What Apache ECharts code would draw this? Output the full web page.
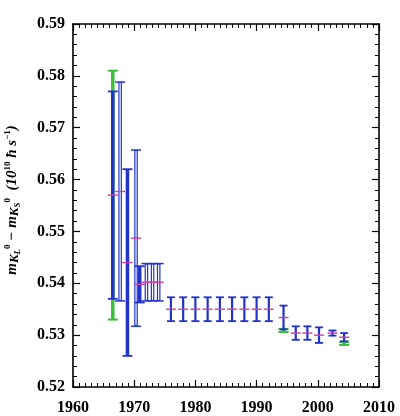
<!DOCTYPE html>
<html><head><meta charset="utf-8">
<script src="https://cdn.jsdelivr.net/npm/echarts@6/dist/echarts.min.js"></script>
<style>html,body{margin:0;padding:0;background:#fff}#c{width:400px;height:416px}</style>
</head><body><div id="c"></div>
<script>
// ---- data ----
const xTickValues = [1960, 1970, 1980, 1990, 2000, 2010];
const yTickValues = [0.52, 0.53, 0.54, 0.55, 0.56, 0.57, 0.58, 0.59];
const blueYears  = [1966.5, 1967.7, 1968.9, 1970.3, 1970.9, 1972.0, 1973.0, 1974.0,
                    1976, 1978, 1980, 1982, 1984, 1986, 1988, 1990, 1992,
                    1994.4, 1996.4, 1998.3, 2000.2, 2002.4, 2004.3];
const blueValues = [0.5570, 0.5577, 0.5440, 0.5487, 0.5398, 0.5402, 0.5402, 0.5402,
                    0.5350, 0.5350, 0.5350, 0.5350, 0.5350, 0.5350, 0.5350, 0.5350, 0.5350,
                    0.5334, 0.5304, 0.5304, 0.5300, 0.5304, 0.5296];
const blueErrors = [0.0200, 0.0211, 0.0180, 0.0170, 0.0035, 0.0036, 0.0036, 0.0036,
                    0.0023, 0.0023, 0.0023, 0.0023, 0.0023, 0.0023, 0.0023, 0.0023, 0.0023,
                    0.0023, 0.0013, 0.0013, 0.0015, 0.0005, 0.0008];
const blueKinds  = ['thick', 'hollow', 'thick', 'hollow', 'thick', 'hollow', 'hollow', 'hollow',
                    'solid', 'solid', 'solid', 'solid', 'solid', 'solid', 'solid', 'solid', 'solid',
                    'solid', 'solid', 'solid', 'solid', 'solid', 'solid'];
const greenYears  = [1966.5, 1994.4, 2004.3];
const greenValues = [0.5570, 0.5309, 0.5284];
const greenErrors = [0.0240, 0.0003, 0.0003];

const BLUE = '#2233c8', GREEN = '#3cbf3c', MAG = '#d03ca8';
const kindIndex = {thick: 0, hollow: 1, solid: 2};

const blueData = blueYears.map((y, i) => [y, blueValues[i], blueErrors[i], kindIndex[blueKinds[i]]]);
const greenData = greenYears.map((y, i) => [y, greenValues[i], greenErrors[i], 3]);

function renderErr(params, api) {
  const x = api.value(0), v = api.value(1), e = api.value(2), k = api.value(3);
  const t = api.coord([x, v + e]), b = api.coord([x, v - e]), m = api.coord([x, v]);
  const ch = [];
  const line = (x1, y1, x2, y2, color, w) => ch.push({type: 'line', shape: {x1, y1, x2, y2}, style: {stroke: color, lineWidth: w}});
  if (k === 3) { // green
    const cw = 5;
    line(t[0], t[1], b[0], b[1], GREEN, 3.5);
    line(t[0] - cw, t[1], t[0] + cw, t[1], GREEN, 2);
    line(b[0] - cw, b[1], b[0] + cw, b[1], GREEN, 2);
    return {type: 'group', children: ch};
  }
  if (k === 0) {
    const cw = 5;
    line(t[0], t[1], b[0], b[1], BLUE, 3.5);
    line(t[0] - cw, t[1], t[0] + cw, t[1], BLUE, 1.8);
    line(b[0] - cw, b[1], b[0] + cw, b[1], BLUE, 1.8);
  } else if (k === 1) {
    const cw = 5;
    line(t[0], t[1], b[0], b[1], BLUE, 3.6);
    line(t[0], t[1] + 1, b[0], b[1] - 1, '#ffffff', 1.2);
    line(t[0] - cw, t[1], t[0] + cw, t[1], BLUE, 1.5);
    line(b[0] - cw, b[1], b[0] + cw, b[1], BLUE, 1.5);
  } else {
    const cw = 4;
    line(t[0], t[1], b[0], b[1], BLUE, 2.2);
    line(t[0] - cw, t[1], t[0] + cw, t[1], BLUE, 1.8);
    line(b[0] - cw, b[1], b[0] + cw, b[1], BLUE, 1.8);
  }
  line(m[0] - 5, m[1], m[0] + 5, m[1], MAG, 1.4);
  return {type: 'group', children: ch};
}

const FONT = 'Liberation Serif';
const labelStyle = {fontFamily: FONT, fontSize: 16, fontWeight: 'bold', color: '#000'};
const frameLine = {show: true, onZero: false, lineStyle: {color: '#000', width: 1.6}};

const chart = echarts.init(document.getElementById('c'), null, {renderer: 'canvas'});
chart.setOption({
  animation: false,
  backgroundColor: '#fff',
  grid: {left: 73, right: 21, top: 24, bottom: 29, containLabel: false},
  xAxis: [
    {type: 'value', position: 'bottom', min: xTickValues[0], max: xTickValues[xTickValues.length - 1], interval: 10,
     axisLine: frameLine, splitLine: {show: false},
     axisTick: {show: true, inside: true, length: 7, lineStyle: {color: '#000', width: 1.2}},
     minorTick: {show: true, splitNumber: 10, length: 4, lineStyle: {color: '#000', width: 1}},
     axisLabel: Object.assign({margin: 13, showMaxLabel: true, showMinLabel: true, formatter: v => String(v)}, labelStyle)},
    {type: 'value', position: 'top', min: xTickValues[0], max: xTickValues[xTickValues.length - 1], interval: 10,
     axisLine: frameLine, splitLine: {show: false},
     axisTick: {show: true, inside: true, length: 7, lineStyle: {color: '#000', width: 1.2}},
     minorTick: {show: true, splitNumber: 10, length: 4, lineStyle: {color: '#000', width: 1}},
     axisLabel: {show: false}}
  ],
  yAxis: [
    {type: 'value', position: 'left', min: yTickValues[0], max: yTickValues[yTickValues.length - 1], interval: 0.01,
     axisLine: frameLine, splitLine: {show: false},
     axisTick: {show: true, inside: true, length: 7, lineStyle: {color: '#000', width: 1.2}},
     minorTick: {show: true, splitNumber: 5, length: 4, lineStyle: {color: '#000', width: 1}},
     axisLabel: Object.assign({margin: 8, showMaxLabel: true, showMinLabel: true, formatter: v => v.toFixed(2)}, labelStyle)},
    {type: 'value', position: 'right', min: yTickValues[0], max: yTickValues[yTickValues.length - 1], interval: 0.01,
     axisLine: frameLine, splitLine: {show: false},
     axisTick: {show: true, inside: true, length: 7, lineStyle: {color: '#000', width: 1.2}},
     minorTick: {show: true, splitNumber: 5, length: 4, lineStyle: {color: '#000', width: 1}},
     axisLabel: {show: false}}
  ],
  graphic: [{
    type: 'text', x: 12, y: 200, rotation: Math.PI / 2,
    style: {
      text: 'm{sb|K}{ss|L}{sp|0} − m{sb|K}{ss|S}{sp|0}  (10{sp|10} ħ s{sp|−1})',
      align: 'center', verticalAlign: 'middle',
      fontFamily: FONT, fontSize: 15, fontWeight: 'bold', fontStyle: 'italic', fill: '#000',
      rich: {
        sb: {fontFamily: FONT, fontSize: 13, fontWeight: 'bold', fontStyle: 'italic', padding: [6, 0, 0, 0]},
        ss: {fontFamily: FONT, fontSize: 9, fontWeight: 'bold', fontStyle: 'italic', padding: [12, 0, 0, 0]},
        sp: {fontFamily: FONT, fontSize: 9, fontWeight: 'bold', padding: [0, 0, 8, 0]}
      }
    }
  }],
  series: [
    {type: 'custom', xAxisIndex: 0, yAxisIndex: 0, data: greenData, renderItem: renderErr, z: 2},
    {type: 'custom', xAxisIndex: 0, yAxisIndex: 0, data: blueData, renderItem: renderErr, z: 3}
  ]
});
</script>
</body></html>
